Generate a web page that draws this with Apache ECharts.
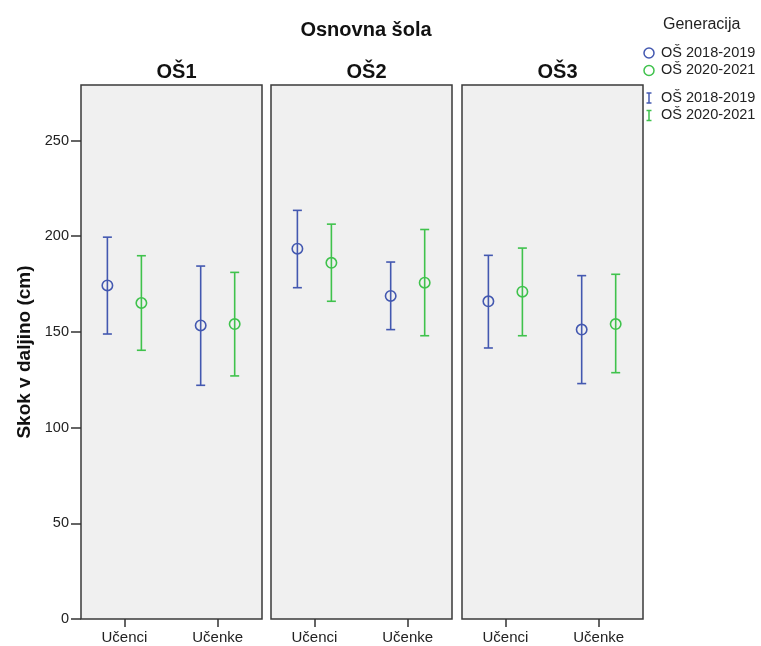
<!DOCTYPE html>
<html><head><meta charset="utf-8">
<script src="https://cdn.jsdelivr.net/npm/echarts@6/dist/echarts.min.js"></script>
<style>html,body{margin:0;padding:0;background:#fff}#c{width:761px;height:646px}</style>
</head><body><div id="c"></div>
<script>
const categories = ['Učenci', 'Učenke'];
const panels = ['OŠ1', 'OŠ2', 'OŠ3'];
const generations = ['OŠ 2018-2019', 'OŠ 2020-2021'];
const yTicks = [0, 50, 100, 150, 200, 250];
// [panel][category]
const mean2018 = [[174.3, 153.4], [193.5, 168.8], [166.0, 151.2]];
const low2018  = [[148.9, 122.1], [173.1, 151.2], [141.6, 123.0]];
const high2018 = [[199.5, 184.4], [213.5, 186.5], [190.0, 179.4]];
const mean2020 = [[165.1, 154.1], [186.1, 175.7], [171.0, 154.1]];
const low2020  = [[140.4, 127.0], [166.0, 148.0], [148.0, 128.7]];
const high2020 = [[189.8, 181.1], [206.3, 203.5], [193.8, 180.1]];

const colors = ['#4358b0', '#3fc24c'];
const FONT = 'Liberation Sans, Arial, sans-serif';
const gridLefts = [81, 271, 462];
const gridW = 181;
const means = [mean2018, mean2020], lows = [low2018, low2020], highs = [high2018, high2020];
const catPos = categories.map((c, i) => i + 1);

const grid = gridLefts.map(l => ({left: l, width: gridW, top: 85, bottom: 27, show: true,
  backgroundColor: '#f0f0f0', borderColor: '#3a3a3a', borderWidth: 1.5, containLabel: false}));

const xAxis = panels.map((p, i) => ({type: 'value', gridIndex: i, min: 0.535, max: 2.475,
  splitLine: {show: false}, axisLine: {show: false},
  axisTick: {show: true, length: 8, customValues: catPos, lineStyle: {color: '#333', width: 1.5}},
  axisLabel: {customValues: catPos, formatter: v => categories[Math.round(v) - 1] || '',
    fontFamily: FONT, fontSize: 15, color: '#222', margin: 11}}));

const yAxis = panels.map((p, i) => ({type: 'value', gridIndex: i, min: 0, max: 279, interval: 50,
  splitLine: {show: false}, axisLine: {show: false},
  axisTick: {show: i === 0, length: 10, customValues: yTicks, lineStyle: {color: '#333', width: 1.5}},
  axisLabel: {show: i === 0, customValues: yTicks, fontFamily: FONT, fontSize: 14.5, color: '#222', margin: 12},
  name: i === 0 ? 'Skok v daljino (cm)' : '', nameLocation: 'middle', nameGap: 47,
  nameTextStyle: {fontFamily: FONT, fontSize: 19, fontWeight: 'bold', color: '#111'}}));

const series = [];
panels.forEach((p, pi) => {
  generations.forEach((g, gi) => {
    const dx = gi === 0 ? -17 : 17;
    series.push({
      type: 'custom', name: g, xAxisIndex: pi, yAxisIndex: pi,
      data: categories.map((c, ci) => [catPos[ci], lows[gi][pi][ci], highs[gi][pi][ci], means[gi][pi][ci]]),
      renderItem: function (params, api) {
        const lo = api.coord([api.value(0), api.value(1)]);
        const hi = api.coord([api.value(0), api.value(2)]);
        const m = api.coord([api.value(0), api.value(3)]);
        const x = lo[0] + dx;
        const st = {stroke: colors[gi], lineWidth: 1.6, fill: null};
        return {type: 'group', children: [
          {type: 'line', shape: {x1: x, y1: lo[1], x2: x, y2: hi[1]}, style: st},
          {type: 'line', shape: {x1: x - 4.5, y1: lo[1], x2: x + 4.5, y2: lo[1]}, style: st},
          {type: 'line', shape: {x1: x - 4.5, y1: hi[1], x2: x + 4.5, y2: hi[1]}, style: st},
          {type: 'circle', shape: {cx: x, cy: m[1], r: 5.2}, style: st}
        ]};
      }
    });
  });
});

const title = [{text: 'Osnovna šola', left: 361, top: 15, textAlign: 'center',
  textStyle: {fontFamily: FONT, fontSize: 20, fontWeight: 'bold', color: '#111'}}].concat(
  panels.map((p, i) => ({text: p, left: gridLefts[i] + gridW / 2, top: 57, textAlign: 'center',
    textStyle: {fontFamily: FONT, fontSize: 20, fontWeight: 'bold', color: '#111'}})));

const lg = [];
lg.push({type: 'text', left: 663, top: 17, style: {text: 'Generacija', font: '16px ' + FONT, fill: '#222'}});
generations.forEach((g, gi) => {
  const cy = 53 + gi * 17.5;
  lg.push({type: 'circle', shape: {cx: 649, cy: cy, r: 5}, style: {stroke: colors[gi], lineWidth: 1.5, fill: null}});
  lg.push({type: 'text', left: 661, top: cy - 8, style: {text: g, font: '14.5px ' + FONT, fill: '#222'}});
  const ey = 98 + gi * 17.5;
  lg.push({type: 'line', shape: {x1: 649, y1: ey - 5, x2: 649, y2: ey + 5}, style: {stroke: colors[gi], lineWidth: 1.5}});
  lg.push({type: 'line', shape: {x1: 646.5, y1: ey - 5, x2: 651.5, y2: ey - 5}, style: {stroke: colors[gi], lineWidth: 1.5}});
  lg.push({type: 'line', shape: {x1: 646.5, y1: ey + 5, x2: 651.5, y2: ey + 5}, style: {stroke: colors[gi], lineWidth: 1.5}});
  lg.push({type: 'text', left: 661, top: ey - 8, style: {text: g, font: '14.5px ' + FONT, fill: '#222'}});
});

const chart = echarts.init(document.getElementById('c'), null, {renderer: 'canvas'});
chart.setOption({animation: false, backgroundColor: '#fff', title, grid, xAxis, yAxis, series, graphic: lg});
</script></body></html>
